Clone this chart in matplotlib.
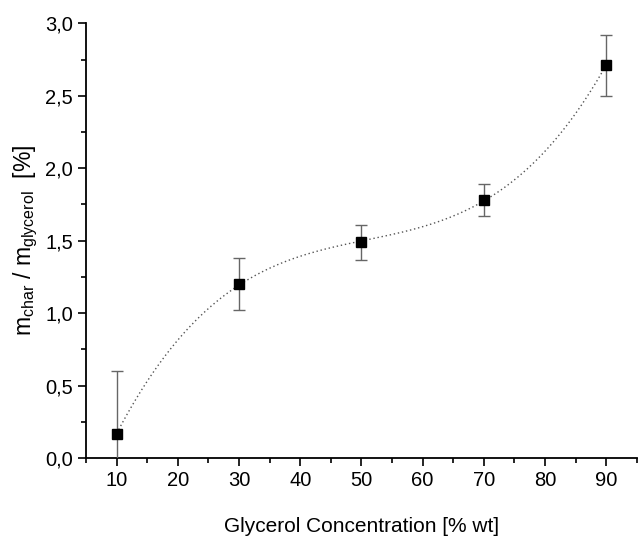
import numpy as np
import matplotlib.pyplot as plt
from matplotlib.ticker import MultipleLocator, FuncFormatter

plt.rcParams['font.family'] = ['Liberation Sans', 'DejaVu Sans']
plt.rcParams['mathtext.fontset'] = 'custom'
plt.rcParams['mathtext.rm'] = 'Liberation Sans'
plt.rcParams['mathtext.default'] = 'regular'

concentration = [10, 30, 50, 70, 90]
char_ratio = [0.17, 1.20, 1.49, 1.78, 2.71]
char_err = [0.43, 0.18, 0.12, 0.11, 0.21]

fig = plt.figure(figsize=(6.38, 5.41), dpi=100)
ax = fig.add_axes([0.135, 0.153, 0.863, 0.804])

# cubic fit through the points, drawn as dotted guide line
coef = np.polyfit(concentration, char_ratio, 3)
xs = np.linspace(concentration[0], concentration[-1], 200)
ax.plot(xs, np.polyval(coef, xs), linestyle=(0, (1, 2)), color='#555555', lw=1.0, zorder=2)

ax.errorbar(concentration, char_ratio, yerr=char_err, fmt='none', ecolor='#666666',
            elinewidth=1.0, capsize=4, capthick=1.0, zorder=3)
ax.plot(concentration, char_ratio, 's', color='black', ms=7.5, zorder=4)

ax.set_xlim(5, 95)
ax.set_ylim(0, 3.0)
ax.xaxis.set_major_locator(MultipleLocator(10))
ax.xaxis.set_minor_locator(MultipleLocator(5))
ax.yaxis.set_major_locator(MultipleLocator(0.5))
ax.yaxis.set_minor_locator(MultipleLocator(0.25))
ax.yaxis.set_major_formatter(FuncFormatter(lambda v, p: f"{v:.1f}".replace('.', ',')))

for side in ['top', 'right']:
    ax.spines[side].set_visible(False)
for side in ['left', 'bottom']:
    ax.spines[side].set_linewidth(1.3)

ax.tick_params(which='major', direction='out', length=6, width=1.2, labelsize=14.5)
ax.tick_params(which='minor', direction='out', length=3.5, width=1.2)

ax.set_xlabel('Glycerol Concentration [% wt]', fontsize=15, labelpad=19)
ax.set_ylabel(r'm$_{char}$ / m$_{glycerol}$  [%]', fontsize=16.5, labelpad=4)

fig.savefig('out.png', dpi=100)
